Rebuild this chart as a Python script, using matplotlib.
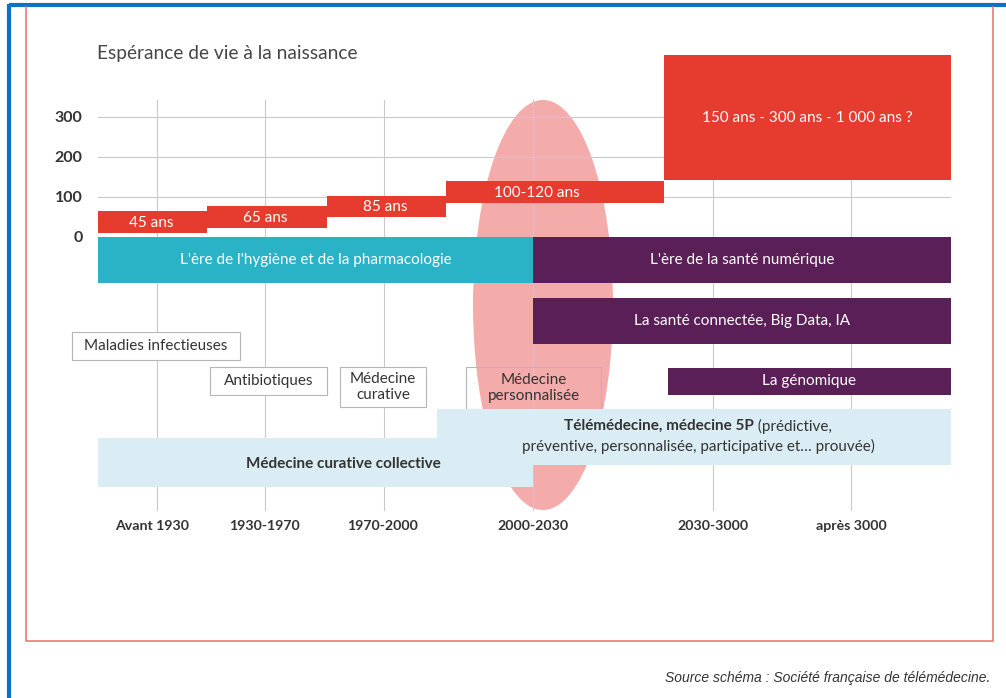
import matplotlib
matplotlib.use("Agg")
import matplotlib.pyplot as plt
from matplotlib.patches import Ellipse, Rectangle

plt.rcParams['font.family'] = ['Lato', 'DejaVu Sans']

# ---- données ----
life_ticks = [0, 100, 200, 300]
life_labels = ['45 ans', '65 ans', '85 ans', '100-120 ans',
               '150 ans - 300 ans - 1 000 ans ?']
life_low = [10, 22, 50, 85, 142]
life_high = [65, 78, 102, 140, 455]
periods = ['Avant 1930', '1930-1970', '1970-2000', '2000-2030',
           '2030-3000', 'après 3000']
era_labels = ["L'ère de l'hygiène et de la pharmacologie",
              "L'ère de la santé numérique",
              "La santé connectée, Big Data, IA",
              "La génomique"]
box_labels = ['Maladies infectieuses', 'Antibiotiques',
              'Médecine\ncurative', 'Médecine\npersonnalisée']
collective_label = 'Médecine curative collective'
tele_bold = 'Télémédecine, médecine 5P'
tele_rest = ' (prédictive,'
tele_line2 = 'préventive, personnalisée, participative et… prouvée)'
title = 'Espérance de vie à la naissance'
source = 'Source schéma : Société française de télémédecine.'

# ---- mise en page (pixels) ----
W, H = 1006, 698
RED = '#e63b2f'
CYAN = '#2ab3c7'
PURPLE = '#5a1f56'
LIGHT = '#daedf4'
DARK = '#333333'
GRID = '#c9c9c9'
FS = 11

period_x = [157, 265, 384, 533, 713, 851]
period_label_x = [152, 264, 383, 533, 713, 851]
life_edges = [98, 207, 327, 446, 664, 951]
life_label_x = [151, 265, 385, 537, 807]
era_spans = [(98, 533, 237, 283, CYAN), (533, 951, 237, 283, PURPLE),
             (533, 951, 298, 344, PURPLE), (668, 951, 368, 395, PURPLE)]
box_spans = [(72, 240, 332, 360, 'white'), (210, 327, 367, 395, 'white'),
             (340, 426, 367, 407, 'white'), (466, 601, 367, 409, 'none')]

fig = plt.figure(figsize=(W / 100, H / 100), dpi=100)
ax = fig.add_axes([0, 0, 1, 1])
ax.set_xlim(0, W)
ax.set_ylim(H, 0)
ax.axis('off')

# cadres
ax.plot([9, W], [5, 5], color='#0b72c6', lw=3, solid_capstyle='butt', zorder=10)
ax.plot([9, 9], [4, H], color='#0b72c6', lw=3, solid_capstyle='butt', zorder=10)
ax.plot([26, 26, 993, 993], [7, 641, 641, 7], color='#e97a74', lw=1.2, zorder=10)

# ellipse 2000-2030
ax.add_patch(Ellipse((543, 305), 140, 410, color='#f4acaa', lw=0, zorder=1))

# grille verticale
for x in period_x:
    ax.plot([x, x], [100, 510], color=GRID, lw=0.8, zorder=2)
for x, lab in zip(period_label_x, periods):
    ax.text(x, 526, lab, ha='center', va='center', fontsize=10.2,
            fontweight='bold', color=DARK, zorder=5)

# ères
for (x0, x1, y0, y1, c), lab in zip(era_spans, era_labels):
    ax.barh((y0 + y1) / 2, x1 - x0, height=y1 - y0, left=x0, color=c,
            lw=0, zorder=3)
    ax.text((x0 + x1) / 2, (y0 + y1) / 2, lab, ha='center', va='center',
            fontsize=FS, color='white', zorder=5)

# zones bleu clair
ax.add_patch(Rectangle((98, 438), 533 - 98, 487 - 438, color=LIGHT, lw=0, zorder=3))
ax.add_patch(Rectangle((437, 409), 951 - 437, 465 - 409, color=LIGHT, lw=0, zorder=3))
ax.text(343, 464, collective_label, ha='center', va='center', fontsize=FS,
        fontweight='bold', color=DARK, zorder=5)

# boîtes encadrées
for (x0, x1, y0, y1, fc), lab in zip(box_spans, box_labels):
    ax.add_patch(Rectangle((x0, y0), x1 - x0, y1 - y0, facecolor=fc,
                           edgecolor='#b5b5b5', lw=0.8, zorder=2.5))
    ax.text((x0 + x1) / 2, (y0 + y1) / 2, lab, ha='center', va='center',
            fontsize=FS, color=DARK, linespacing=1.1, zorder=5)

# texte télémédecine (gras + normal sur une ligne)
tb = ax.text(0, 426, tele_bold, ha='left', va='center', fontsize=FS,
             fontweight='bold', color=DARK, zorder=5)
tr = ax.text(0, 426, tele_rest, ha='left', va='center', fontsize=FS,
             color=DARK, zorder=5)
fig.canvas.draw()
rend = fig.canvas.get_renderer()
wb = tb.get_window_extent(rend).width
wr = tr.get_window_extent(rend).width
x_start = 698 - (wb + wr) / 2
tb.set_x(x_start)
tr.set_x(x_start + wb)
ax.text(698, 446, tele_line2, ha='center', va='center', fontsize=FS,
        color=DARK, zorder=5)

# titre et source
ax.text(97, 53, title, ha='left', va='center', fontsize=13.8, color='#454545')
ax.text(990, 678, source, ha='right', va='center', fontsize=10,
        style='italic', family=['Liberation Sans', 'DejaVu Sans'], color=DARK)

# espérance de vie (échelle propre)
ax_life = fig.add_axes([98 / W, 1 - 237 / H, (951 - 98) / W, (237 - 55) / H])
ax_life.set_zorder(1)
ax_life.patch.set_alpha(0)
ax_life.set_xlim(98, 951)
ax_life.set_ylim(0, 455)
for s in ax_life.spines.values():
    s.set_visible(False)
ax_life.set_xticks([])
ax_life.set_yticks(life_ticks)
ax_life.set_yticklabels([str(t) for t in life_ticks], fontsize=11.5,
                        fontweight='bold', color=DARK)
ax_life.tick_params(axis='y', length=0, pad=11)
for t in life_ticks[1:]:
    ax_life.axhline(t, color=GRID, lw=0.8, zorder=0)
lefts = life_edges[:-1]
widths = [b - a for a, b in zip(life_edges[:-1], life_edges[1:])]
heights = [h - l for l, h in zip(life_low, life_high)]
ax_life.bar(lefts, heights, width=widths, bottom=life_low, align='edge',
            color=RED, lw=0, zorder=3)
for x, lo, hi, lab in zip(life_label_x, life_low, life_high, life_labels):
    ax_life.text(x, (lo + hi) / 2 - 2, lab, ha='center', va='center',
                 fontsize=FS, color='white', zorder=5)

fig.savefig('out.png', dpi=100)
